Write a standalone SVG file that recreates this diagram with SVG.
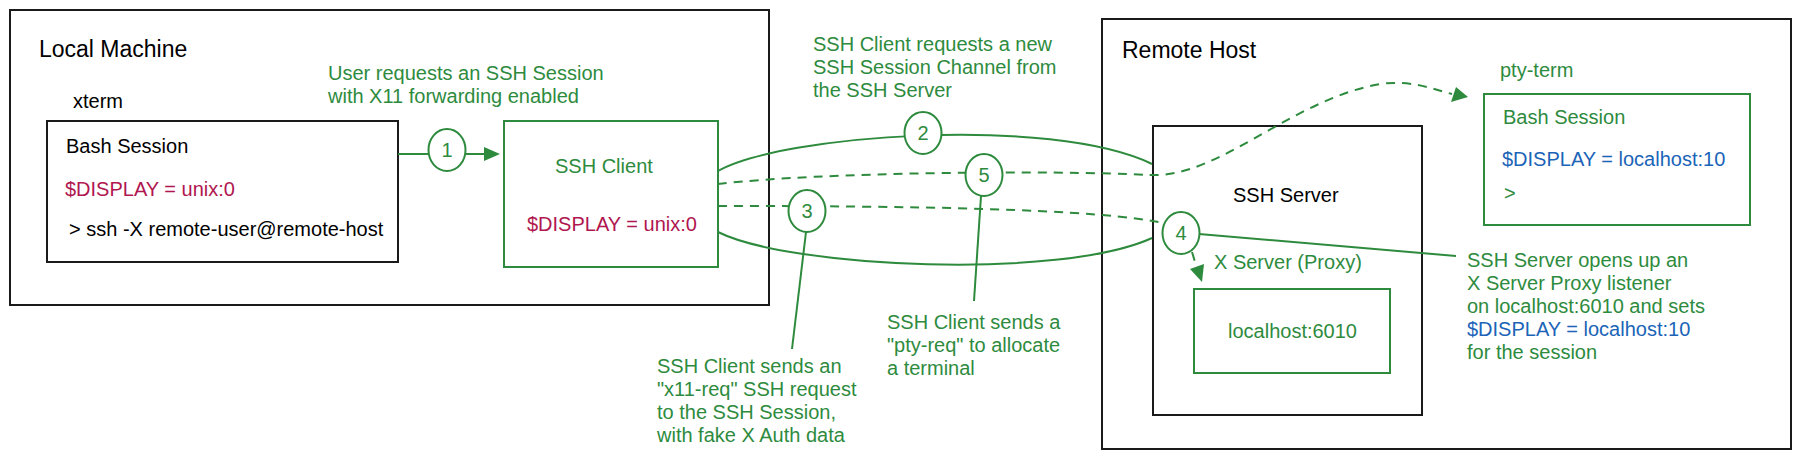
<svg xmlns="http://www.w3.org/2000/svg" width="1801" height="459" viewBox="0 0 1801 459">
<style>
text{font-family:"Liberation Sans",Arial,sans-serif;font-size:20px}
.title{font-size:23px}
.k{fill:#000}
.g{fill:#2e8b3e}
.r{fill:#b0164f}
.b{fill:#1b64b8}
.bx{fill:#fff;stroke:#1a1a1a;stroke-width:2}
.gx{fill:#fff;stroke:#2e8b3e;stroke-width:2}
.ln{fill:none;stroke:#2e8b3e;stroke-width:2}
.dash{stroke-dasharray:9 7}
.num{fill:#fff;stroke:#2e8b3e;stroke-width:2}
.ah{fill:#2e8b3e}
.c{text-anchor:middle}
</style>
<rect width="1801" height="459" fill="#fff"/>
<g id="local-machine">
<rect class="bx" x="10" y="10" width="759" height="295"/>
<text class="title k" x="39" y="57">Local Machine</text>
</g>
<g id="remote-host">
<rect class="bx" x="1102" y="19" width="689" height="430"/>
<text class="title k" x="1122" y="58">Remote Host</text>
</g>
<g id="xterm">
<text class="k" x="73" y="108">xterm</text>
<rect class="bx" x="47" y="121" width="351" height="141"/>
<text class="k" x="66" y="153">Bash Session</text>
<text class="r" x="65" y="196">$DISPLAY = unix:0</text>
<text class="k" x="69" y="236">&gt; ssh -X remote-user@remote-host</text>
</g>
<g id="ssh-client">
<rect class="gx" x="504" y="121" width="214" height="146"/>
<text class="g" x="555" y="173">SSH Client</text>
<text class="r" x="527" y="231">$DISPLAY = unix:0</text>
</g>
<g id="ssh-server">
<rect class="bx" x="1153" y="126" width="269" height="289"/>
<text class="k" x="1233" y="202">SSH Server</text>
<text class="g" x="1214" y="269">X Server (Proxy)</text>
</g>
<g id="x-proxy">
<rect class="gx" x="1194" y="289" width="196" height="84"/>
<text class="g" x="1228" y="338">localhost:6010</text>
</g>
<g id="pty-term">
<text class="g" x="1500" y="77">pty-term</text>
<rect class="gx" x="1484" y="94" width="266" height="131"/>
<text class="g" x="1503" y="124">Bash Session</text>
<text class="b" x="1502" y="166">$DISPLAY = localhost:10</text>
<text class="g" x="1504" y="200">&gt;</text>
</g>
<g id="labels">
<text class="g" x="328" y="80">User requests an SSH Session</text>
<text class="g" x="328" y="103">with X11 forwarding enabled</text>
<text class="g" x="813" y="51">SSH Client requests a new</text>
<text class="g" x="813" y="74">SSH Session Channel from</text>
<text class="g" x="813" y="97">the SSH Server</text>
<text class="g" x="657" y="373">SSH Client sends an</text>
<text class="g" x="657" y="396">"x11-req" SSH request</text>
<text class="g" x="657" y="419">to the SSH Session,</text>
<text class="g" x="657" y="442">with fake X Auth data</text>
<text class="g" x="887" y="329">SSH Client sends a</text>
<text class="g" x="887" y="352">"pty-req" to allocate</text>
<text class="g" x="887" y="375">a terminal</text>
<text class="g" x="1467" y="267">SSH Server opens up an</text>
<text class="g" x="1467" y="290">X Server Proxy listener</text>
<text class="g" x="1467" y="313">on localhost:6010 and sets</text>
<text class="b" x="1467" y="336">$DISPLAY = localhost:10</text>
<text class="g" x="1467" y="359">for the session</text>
</g>
<g id="connectors">
<path class="ln" d="M398,154 L486,154"/>
<polygon class="ah" points="484,147 500,154 484,161"/>
<path class="ln" d="M718,171 C780,135 1050,115 1152,164"/>
<path class="ln" d="M718,232 C790,268 1060,280 1152,238"/>
<path class="ln dash" d="M718,184 C820,172 1050,170 1150,175 C1220,178 1290,100 1380,84 C1410,80 1430,88 1452,94"/>
<polygon class="ah" points="1451,102 1456,87 1468,97"/>
<path class="ln dash" d="M718,206 C900,206 1100,208 1168,224"/>
<path class="ln dash" d="M1192,252 L1196,265"/>
<polygon class="ah" points="1190,269 1204,264 1202,282"/>
<path class="ln" d="M1199,234 L1456,256"/>
<path class="ln" d="M806,232 L792,349"/>
<path class="ln" d="M981,196 L974,301"/>
</g>
<g id="step1"><ellipse class="num" cx="447" cy="150" rx="18.5" ry="21"/><text class="g c" x="447" y="157">1</text></g>
<g id="step2"><ellipse class="num" cx="923" cy="133" rx="18.5" ry="21"/><text class="g c" x="923" y="140">2</text></g>
<g id="step3"><ellipse class="num" cx="807" cy="211" rx="18.5" ry="21"/><text class="g c" x="807" y="218">3</text></g>
<g id="step4"><ellipse class="num" cx="1181" cy="233" rx="18.5" ry="21"/><text class="g c" x="1181" y="240">4</text></g>
<g id="step5"><ellipse class="num" cx="984" cy="175" rx="18.5" ry="21"/><text class="g c" x="984" y="182">5</text></g>
</svg>
